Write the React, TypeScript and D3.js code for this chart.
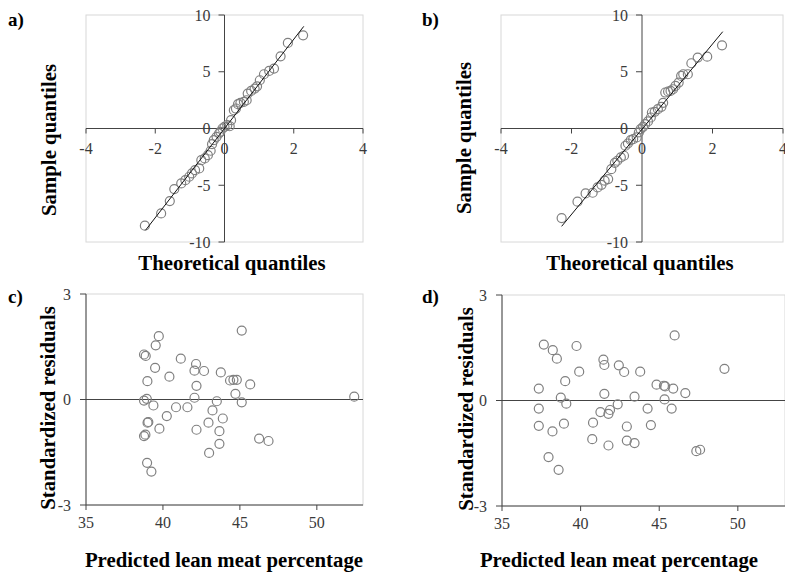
import * as d3 from "d3";

// a) normal Q-Q plot, model 1
const qqA: [number, number][] = [
  [-2.3, -8.56], [-1.83, -7.48], [-1.58, -6.39], [-1.45, -5.34], [-1.25, -4.84],
  [-1.13, -4.55], [-1.02, -4.25], [-0.94, -3.96], [-0.85, -3.67], [-0.73, -3.52],
  [-0.67, -2.79], [-0.57, -2.64], [-0.48, -2.35], [-0.4, -1.96], [-0.36, -1.38],
  [-0.31, -1.03], [-0.23, -0.73], [-0.16, -0.44], [-0.12, -0.29], [-0.06, 0.0],
  [0.0, 0.15], [0.08, 0.29], [0.15, 0.2], [0.19, 0.73], [0.27, 1.61],
  [0.33, 1.76], [0.39, 2.14], [0.46, 2.26], [0.56, 2.35], [0.64, 2.49],
  [0.67, 3.08], [0.77, 3.31], [0.87, 3.52], [0.94, 3.72], [1.02, 4.25],
  [1.14, 4.78], [1.29, 5.07], [1.43, 5.28], [1.62, 6.36], [1.83, 7.54],
  [2.27, 8.21],
];
const lineAX = [-2.28, 2.29];
const lineAY = [-8.96, 9.0];

// b) normal Q-Q plot, model 2
const qqB: [number, number][] = [
  [-2.28, -7.89], [-1.83, -6.45], [-1.6, -5.72], [-1.4, -5.66], [-1.26, -5.19],
  [-1.15, -4.96], [-1.06, -4.6], [-0.96, -4.46], [-0.87, -3.58], [-0.77, -3.02],
  [-0.7, -2.84], [-0.6, -2.55], [-0.51, -2.4], [-0.47, -1.52], [-0.4, -1.32],
  [-0.32, -1.03], [-0.25, -0.94], [-0.15, -0.79], [-0.09, -0.35], [-0.04, -0.06],
  [0.03, 0.15], [0.09, 0.38], [0.17, 0.62], [0.25, 0.97], [0.28, 1.41],
  [0.36, 1.47], [0.45, 1.7], [0.55, 1.91], [0.6, 2.26], [0.66, 3.17],
  [0.74, 3.26], [0.81, 3.31], [0.88, 3.46], [0.95, 3.75], [1.04, 4.05],
  [1.11, 4.63], [1.17, 4.78], [1.3, 4.78], [1.4, 5.75], [1.58, 6.25],
  [1.85, 6.33], [2.27, 7.33],
];
const lineBX = [-2.28, 2.29];
const lineBY = [-8.62, 8.53];

// c) residuals vs predicted, model 1
const resC: [number, number][] = [
  [38.77, 1.28], [38.88, 1.24], [39.73, 1.8], [39.53, 1.54], [39.49, 0.9],
  [38.99, 0.52], [38.77, -0.03], [38.95, 0.02], [39.38, -0.17], [39.05, -0.64],
  [39.0, -0.66], [38.77, -1.04], [38.86, -1.0], [39.77, -0.83], [38.97, -1.8],
  [39.25, -2.05], [40.42, 0.65], [40.25, -0.47], [40.85, -0.22], [41.16, 1.16],
  [41.59, -0.22], [42.05, 0.05], [42.05, 0.82], [42.15, 1.01], [42.18, 0.39],
  [42.18, -0.86], [42.67, 0.81], [42.96, -0.66], [43.0, -1.52], [43.22, -0.31],
  [43.5, -0.05], [43.76, 0.77], [43.67, -0.9], [43.67, -1.26], [43.89, -0.54],
  [44.36, 0.54], [44.58, 0.56], [44.8, 0.56], [44.71, 0.16], [45.12, 1.96],
  [45.12, -0.08], [45.67, 0.43], [46.25, -1.11], [46.86, -1.18], [52.43, 0.08],
];

// d) residuals vs predicted, model 2
const resD: [number, number][] = [
  [37.34, 0.34], [37.34, -0.23], [37.34, -0.72], [37.66, 1.59], [38.23, 1.43],
  [38.49, 1.19], [38.74, 0.08], [38.21, -0.88], [37.96, -1.61], [38.6, -1.97],
  [39.02, 0.55], [39.09, -0.09], [38.94, -0.66], [39.74, 1.55], [39.91, 0.82],
  [40.74, -1.1], [40.79, -0.63], [41.26, -0.33], [41.45, 1.16], [41.51, 1.01],
  [41.51, 0.19], [41.77, -0.38], [41.87, -0.27], [41.77, -1.28], [42.36, -0.11],
  [42.43, 1.0], [42.77, 0.81], [42.94, -0.74], [42.94, -1.14], [43.43, 0.11],
  [43.43, -1.21], [43.79, 0.82], [44.26, -0.23], [44.47, -0.7], [44.83, 0.45],
  [45.3, 0.42], [45.38, 0.4], [45.34, 0.03], [45.89, 0.34], [45.79, -0.23],
  [45.98, 1.85], [46.66, 0.21], [47.36, -1.44], [47.6, -1.4], [49.15, 0.9],
];

const qqXTicks = [-4, -2, 0, 2, 4];
const qqYTicks = [-10, -5, 0, 5, 10];
const resXTicks = [35, 40, 45, 50];
const resYTicks = [-3, 0, 3];

const serif = "Liberation Serif, Tinos, Times New Roman, DejaVu Serif, serif";
const tickColor = "#3a3a3a";
const axisColor = "#444";
const frameColor = "#d8d8d8";
const pointColor = "#808080";
const titleSize = 20.8;
const tickSize = 16;

type QQProps = {
  tag: string;
  points: [number, number][];
  lx: number[];
  ly: number[];
  x0: number; x1: number; y0: number; y1: number;
  tagX: number;
  yTitleX: number; yTitleY: number;
  xTitleX: number; xTitleY: number;
};

function QQPanel(p: QQProps) {
  const x = d3.scaleLinear().domain([-4, 4]).range([p.x0, p.x1]);
  const y = d3.scaleLinear().domain([-10, 10]).range([p.y1, p.y0]);
  const line = d3.line<number>().x((d) => x(p.lx[d])).y((d) => y(p.ly[d]));
  return (
    <g>
      <rect x={p.x0} y={p.y0} width={p.x1 - p.x0} height={p.y1 - p.y0}
        fill="none" stroke={frameColor} strokeWidth={1} />
      <line x1={x(0)} x2={x(0)} y1={p.y0} y2={p.y1} stroke={axisColor} />
      <line x1={p.x0} x2={p.x1} y1={y(0)} y2={y(0)} stroke={axisColor} />
      {qqYTicks.map((t) => (
        <g key={"y" + t}>
          <line x1={x(0) - 6} x2={x(0)} y1={y(t)} y2={y(t)} stroke={axisColor} />
          <text x={x(0) - 14} y={y(t) + 5.5} textAnchor="end" fontSize={tickSize}
            fill={tickColor} style={{ fontFamily: serif }}>{t}</text>
        </g>
      ))}
      {qqXTicks.map((t) => (
        <g key={"x" + t}>
          <line x1={x(t)} x2={x(t)} y1={y(0)} y2={y(0) + 5} stroke={axisColor} />
          <text x={x(t)} y={y(0) + 25} textAnchor="middle" fontSize={tickSize}
            fill={tickColor} style={{ fontFamily: serif }}>{t}</text>
        </g>
      ))}
      {p.points.map((d, i) => (
        <circle key={i} cx={x(d[0])} cy={y(d[1])} r={4.5}
          fill="none" stroke={pointColor} strokeWidth={1.2} />
      ))}
      <path d={line([0, 1]) ?? ""} fill="none" stroke="#111" strokeWidth={1} />
      <text x={p.tagX} y={26} fontSize={19} fontWeight="bold" style={{ fontFamily: serif }}>{p.tag}</text>
      <text transform={`translate(${p.yTitleX},${p.yTitleY}) rotate(-90)`}
        textAnchor="middle" dominantBaseline="central" fontSize={titleSize}
        fontWeight="bold" style={{ fontFamily: serif }}>Sample quantiles</text>
      <text x={p.xTitleX} y={p.xTitleY} textAnchor="middle" fontSize={titleSize}
        fontWeight="bold" style={{ fontFamily: serif }}>Theoretical quantiles</text>
    </g>
  );
}

type ResProps = {
  tag: string;
  points: [number, number][];
  x0: number; x1: number; y0: number; y1: number;
  tagX: number;
  yTitleX: number; yTitleY: number;
  xTitleX: number; xTitleY: number;
};

function ResPanel(p: ResProps) {
  const x = d3.scaleLinear().domain([35, 53]).range([p.x0, p.x1]);
  const y = d3.scaleLinear().domain([-3, 3]).range([p.y1, p.y0]);
  return (
    <g>
      <rect x={p.x0} y={p.y0} width={p.x1 - p.x0} height={p.y1 - p.y0}
        fill="none" stroke={frameColor} strokeWidth={1} />
      <line x1={p.x0} x2={p.x0} y1={p.y0} y2={p.y1} stroke={axisColor} />
      <line x1={p.x0} x2={p.x1} y1={p.y1} y2={p.y1} stroke={axisColor} />
      <line x1={p.x0} x2={p.x1} y1={y(0)} y2={y(0)} stroke={axisColor} />
      {resYTicks.map((t) => (
        <g key={"y" + t}>
          <line x1={p.x0 - 6} x2={p.x0} y1={y(t)} y2={y(t)} stroke={axisColor} />
          <text x={p.x0 - 15} y={y(t) + 5.5} textAnchor="end" fontSize={tickSize}
            fill={tickColor} style={{ fontFamily: serif }}>{t}</text>
        </g>
      ))}
      {resXTicks.map((t) => (
        <g key={"x" + t}>
          <line x1={x(t)} x2={x(t)} y1={p.y1} y2={p.y1 + 5} stroke={axisColor} />
          <text x={x(t)} y={p.y1 + 23} textAnchor="middle" fontSize={tickSize}
            fill={tickColor} style={{ fontFamily: serif }}>{t}</text>
        </g>
      ))}
      {p.points.map((d, i) => (
        <circle key={i} cx={x(d[0])} cy={y(d[1])} r={4.5}
          fill="none" stroke={pointColor} strokeWidth={1.2} />
      ))}
      <text x={p.tagX} y={303} fontSize={19} fontWeight="bold" style={{ fontFamily: serif }}>{p.tag}</text>
      <text transform={`translate(${p.yTitleX},${p.yTitleY}) rotate(-90)`}
        textAnchor="middle" dominantBaseline="central" fontSize={titleSize}
        fontWeight="bold" style={{ fontFamily: serif }}>Standardized residuals</text>
      <text x={p.xTitleX} y={p.xTitleY} textAnchor="middle" fontSize={titleSize}
        fontWeight="bold" style={{ fontFamily: serif }}>Predicted lean meat percentage</text>
    </g>
  );
}

export default function App() {
  return (
    <svg width={785} height={572} style={{ position: "absolute", left: 0, top: 0, background: "#fff" }}>
      <QQPanel tag="a)" points={qqA} lx={lineAX} ly={lineAY}
        x0={86} x1={363} y0={15} y1={242} tagX={8}
        yTitleX={48} yTitleY={140} xTitleX={232} xTitleY={270} />
      <QQPanel tag="b)" points={qqB} lx={lineBX} ly={lineBY}
        x0={501} x1={783} y0={15} y1={242} tagX={422}
        yTitleX={463} yTitleY={138} xTitleX={640} xTitleY={270} />
      <ResPanel tag="c)" points={resC}
        x0={86} x1={363} y0={294} y1={505} tagX={8}
        yTitleX={47} yTitleY={408} xTitleX={224} xTitleY={567} />
      <ResPanel tag="d)" points={resD}
        x0={502} x1={785} y0={295} y1={506} tagX={422}
        yTitleX={465} yTitleY={409} xTitleX={619} xTitleY={567} />
    </svg>
  );
}
